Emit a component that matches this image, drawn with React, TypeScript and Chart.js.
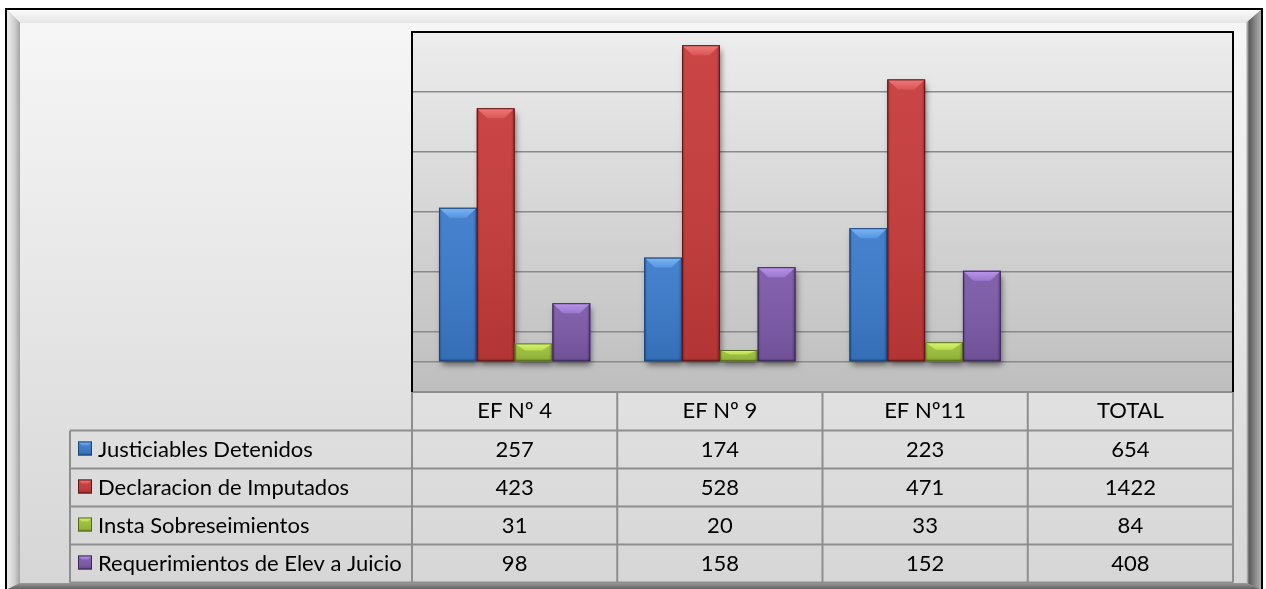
import React, { useEffect, useRef } from "react";
import { Chart, registerables } from "chart.js";

Chart.register(...registerables);

// ---- data ----
const categories = ["EF Nº 4", "EF Nº 9", "EF Nº11", "TOTAL"];
const plottedCategories = [true, true, true, false]; // TOTAL column is only in the table
const seriesNames = [
  "Justiciables Detenidos",
  "Declaracion de Imputados",
  "Insta Sobreseimientos",
  "Requerimientos de Elev a Juicio",
];
const justiciablesDetenidos = [257, 174, 223, 654];
const declaracionImputados = [423, 528, 471, 1422];
const instaSobreseimientos = [31, 20, 33, 84];
const requerimientosElev = [98, 158, 152, 408];
const seriesValues = [justiciablesDetenidos, declaracionImputados, instaSobreseimientos, requerimientosElev];
const gridValues = [0, 50, 150, 250, 350, 450];
const yMin = -50;
const yMax = 550;

// ---- styles ----
const seriesColors = [
  { base: "#3a7acb", light: "#7db6f5", mid: "#5595e0", dark: "#23599d", line: "#1b4478" },
  { base: "#c73a3a", light: "#f07a7a", mid: "#db5656", dark: "#982525", line: "#5e1616" },
  { base: "#9cc13a", light: "#d8f570", mid: "#bcdc52", dark: "#76932a", line: "#55691e" },
  { base: "#7c59a8", light: "#bb96ec", mid: "#9a76cc", dark: "#5a3d80", line: "#3a2856" },
];
const FONT = "22px Lato, 'Open Sans', sans-serif";

function drawBevelBox(ctx: CanvasRenderingContext2D, L: number, T: number, R: number, B: number, c: any, maxBevel: number) {
  const w = R - L;
  const h = B - T;
  if (w <= 0 || h <= 0) return;
  const bv = Math.min(maxBevel, h * 0.4);
  const bh = Math.min(maxBevel + 1, w * 0.28);
  ctx.save();
  const g = ctx.createLinearGradient(L, 0, R, 0);
  g.addColorStop(0, c.dark);
  g.addColorStop(0.08, c.base);
  g.addColorStop(0.5, c.base);
  g.addColorStop(0.9, c.base);
  g.addColorStop(1, c.dark);
  ctx.fillStyle = g;
  ctx.fillRect(L, T, w, h);
  const gv = ctx.createLinearGradient(0, T, 0, B);
  gv.addColorStop(0, "rgba(255,255,255,0.06)");
  gv.addColorStop(1, "rgba(0,0,0,0.10)");
  ctx.fillStyle = gv;
  ctx.fillRect(L, T, w, h);
  // top bevel face
  ctx.beginPath();
  ctx.moveTo(L, T);
  ctx.lineTo(R, T);
  ctx.lineTo(R - bh, T + bv);
  ctx.lineTo(L + bh, T + bv);
  ctx.closePath();
  const gt = ctx.createLinearGradient(0, T, 0, T + bv);
  gt.addColorStop(0, c.light);
  gt.addColorStop(1, c.mid);
  ctx.fillStyle = gt;
  ctx.fill();
  const bb = Math.min(2.5, h * 0.15);
  ctx.fillStyle = "rgba(0,0,0,0.12)";
  ctx.fillRect(L, B - bb, w, bb);
  ctx.strokeStyle = c.line;
  ctx.lineWidth = 1;
  ctx.strokeRect(L + 0.5, T + 0.5, w - 1, h - 1);
  ctx.restore();
}

const chartPlugin = {
  id: "excelLook",
  beforeDraw(chart: any) {
    const ctx: CanvasRenderingContext2D = chart.ctx;
    const W = chart.width;
    const H = chart.height;
    ctx.save();
    ctx.fillStyle = "#ffffff";
    ctx.fillRect(0, 0, W, H);
    const oL = 6, oT = 9, oR = 1262, oB = 590;
    const iL = 20, iT = 23, iR = 1246, iB = 583;
    ctx.fillStyle = "#a8a8a8";
    ctx.fillRect(oL, oT, oR - oL, oB - oT);
    let g = ctx.createLinearGradient(0, oT, 0, iT);
    g.addColorStop(0, "#fdfdfd");
    g.addColorStop(1, "#e4e4e4");
    ctx.fillStyle = g;
    ctx.beginPath();
    ctx.moveTo(oL, oT); ctx.lineTo(oR, oT); ctx.lineTo(iR, iT); ctx.lineTo(iL, iT); ctx.closePath();
    ctx.fill();
    g = ctx.createLinearGradient(oL, 0, iL, 0);
    g.addColorStop(0, "#f2f2f2");
    g.addColorStop(0.6, "#d0d0d0");
    g.addColorStop(1, "#a4a4a4");
    ctx.fillStyle = g;
    ctx.beginPath();
    ctx.moveTo(oL, oT); ctx.lineTo(iL, iT); ctx.lineTo(iL, iB); ctx.lineTo(oL, oB); ctx.closePath();
    ctx.fill();
    g = ctx.createLinearGradient(iR, 0, oR, 0);
    g.addColorStop(0, "#e2e2e2");
    g.addColorStop(0.2, "#5c5c5c");
    g.addColorStop(0.6, "#8c8c8c");
    g.addColorStop(1, "#b4b4b4");
    ctx.fillStyle = g;
    ctx.beginPath();
    ctx.moveTo(oR, oT); ctx.lineTo(iR, iT); ctx.lineTo(iR, iB); ctx.lineTo(oR, oB); ctx.closePath();
    ctx.fill();
    g = ctx.createLinearGradient(0, iB, 0, oB);
    g.addColorStop(0, "#9a9a9a");
    g.addColorStop(1, "#5a5a5a");
    ctx.fillStyle = g;
    ctx.beginPath();
    ctx.moveTo(iL, iB); ctx.lineTo(iR, iB); ctx.lineTo(oR, oB); ctx.lineTo(oL, oB); ctx.closePath();
    ctx.fill();
    g = ctx.createLinearGradient(0, iT, 0, iB);
    g.addColorStop(0, "#f6f6f6");
    g.addColorStop(1, "#d6d6d6");
    ctx.fillStyle = g;
    ctx.fillRect(iL, iT, iR - iL, iB - iT);
    ctx.strokeStyle = "#000";
    ctx.lineWidth = 2;
    ctx.strokeRect(oL, oT, oR - oL, oB - oT);
    const a = chart.chartArea;
    g = ctx.createLinearGradient(0, a.top, 0, a.bottom);
    g.addColorStop(0, "#ededed");
    g.addColorStop(1, "#bebebe");
    ctx.fillStyle = g;
    ctx.fillRect(a.left, a.top, a.right - a.left, a.bottom - a.top);
    ctx.restore();
  },
  beforeDatasetsDraw(chart: any) {
    const ctx: CanvasRenderingContext2D = chart.ctx;
    ctx.save();
    chart.data.datasets.forEach((_ds: any, di: number) => {
      const meta = chart.getDatasetMeta(di);
      meta.data.forEach((el: any, j: number) => {
        if (!plottedCategories[j] || el.skip) return;
        const L = el.x - el.width / 2;
        const top = Math.min(el.y, el.base);
        const h = Math.abs(el.base - el.y);
        ctx.shadowColor = "rgba(0,0,0,0.5)";
        ctx.shadowBlur = 6;
        ctx.shadowOffsetX = 2;
        ctx.shadowOffsetY = 4;
        ctx.fillStyle = "rgba(90,90,90,1)";
        ctx.fillRect(L + 1, top + 1, el.width - 2, h - 1);
      });
    });
    ctx.restore();
  },
  afterDatasetsDraw(chart: any) {
    const ctx: CanvasRenderingContext2D = chart.ctx;
    chart.data.datasets.forEach((_ds: any, di: number) => {
      const meta = chart.getDatasetMeta(di);
      meta.data.forEach((el: any, j: number) => {
        if (!plottedCategories[j] || el.skip) return;
        const L = el.x - el.width / 2;
        const R = el.x + el.width / 2;
        drawBevelBox(ctx, L, Math.min(el.y, el.base), R, Math.max(el.y, el.base), seriesColors[di], 10);
      });
    });
  },
  afterDraw(chart: any) {
    const ctx: CanvasRenderingContext2D = chart.ctx;
    const a = chart.chartArea;
    ctx.save();
    const n = categories.length;
    const colW = (a.right - a.left) / n;
    const legendLeft = 70;
    const headTop = a.bottom;
    const rowTop = 430.5;
    const rowH = 38;
    const tableBottom = rowTop + rowH * seriesNames.length;
    ctx.strokeStyle = "#8e8e8e";
    ctx.lineWidth = 2;
    ctx.beginPath();
    ctx.moveTo(a.left, headTop); ctx.lineTo(a.right, headTop);
    for (let r = 0; r <= seriesNames.length; r++) {
      const y = rowTop + r * rowH;
      ctx.moveTo(legendLeft, y); ctx.lineTo(a.right, y);
    }
    for (let c = 0; c <= n; c++) {
      const x = a.left + c * colW;
      ctx.moveTo(x, headTop); ctx.lineTo(x, tableBottom);
    }
    ctx.moveTo(legendLeft, rowTop); ctx.lineTo(legendLeft, tableBottom);
    ctx.stroke();

    ctx.strokeStyle = "#000";
    ctx.lineWidth = 2;
    ctx.beginPath();
    ctx.moveTo(a.left, a.bottom); ctx.lineTo(a.left, a.top); ctx.lineTo(a.right, a.top); ctx.lineTo(a.right, a.bottom);
    ctx.stroke();

    ctx.fillStyle = "#000";
    ctx.font = FONT;
    ctx.textBaseline = "middle";
    ctx.textAlign = "center";
    categories.forEach((cat, c) => {
      ctx.fillText(cat, a.left + (c + 0.5) * colW, (headTop + rowTop) / 2);
    });
    seriesNames.forEach((name, r) => {
      const yc = rowTop + (r + 0.5) * rowH;
      seriesValues[r].forEach((v, c) => {
        ctx.textAlign = "center";
        ctx.fillText(String(v), a.left + (c + 0.5) * colW, yc);
      });
      drawBevelBox(ctx, 78, yc - 8, 92, yc + 6, seriesColors[r], 4);
      ctx.textAlign = "left";
      ctx.fillStyle = "#000";
      ctx.fillText(name, 98, yc);
    });
    ctx.restore();
  },
};

export default function App() {
  const ref = useRef<HTMLCanvasElement>(null);
  useEffect(() => {
    document.body.style.margin = "0";
    const canvas = ref.current!;
    const chart = new Chart(canvas, {
      type: "bar",
      data: {
        labels: categories,
        datasets: seriesNames.map((name, i) => ({
          label: name,
          data: seriesValues[i].map((v, j) => (plottedCategories[j] ? v : null)),
          backgroundColor: seriesColors[i].base,
          borderWidth: 0,
          barPercentage: 1,
          categoryPercentage: 0.737,
        })),
      },
      options: {
        responsive: false,
        animation: false,
        layout: { padding: { left: 412, right: 33, top: 32, bottom: 197 } },
        plugins: {
          legend: { display: false },
          tooltip: { enabled: false },
          title: { display: false },
        },
        scales: {
          x: { display: false },
          y: {
            min: yMin,
            max: yMax,
            afterBuildTicks: (s: any) => {
              s.ticks = gridValues.map((v) => ({ value: v }));
            },
            ticks: { display: false },
            grid: { color: "#8a8a8a", lineWidth: 1.5, drawTicks: false },
            border: { display: false },
          },
        },
      },
      plugins: [chartPlugin],
    } as any);
    return () => chart.destroy();
  }, []);
  return <canvas ref={ref} width={1266} height={589} style={{ display: "block" }} />;
}
